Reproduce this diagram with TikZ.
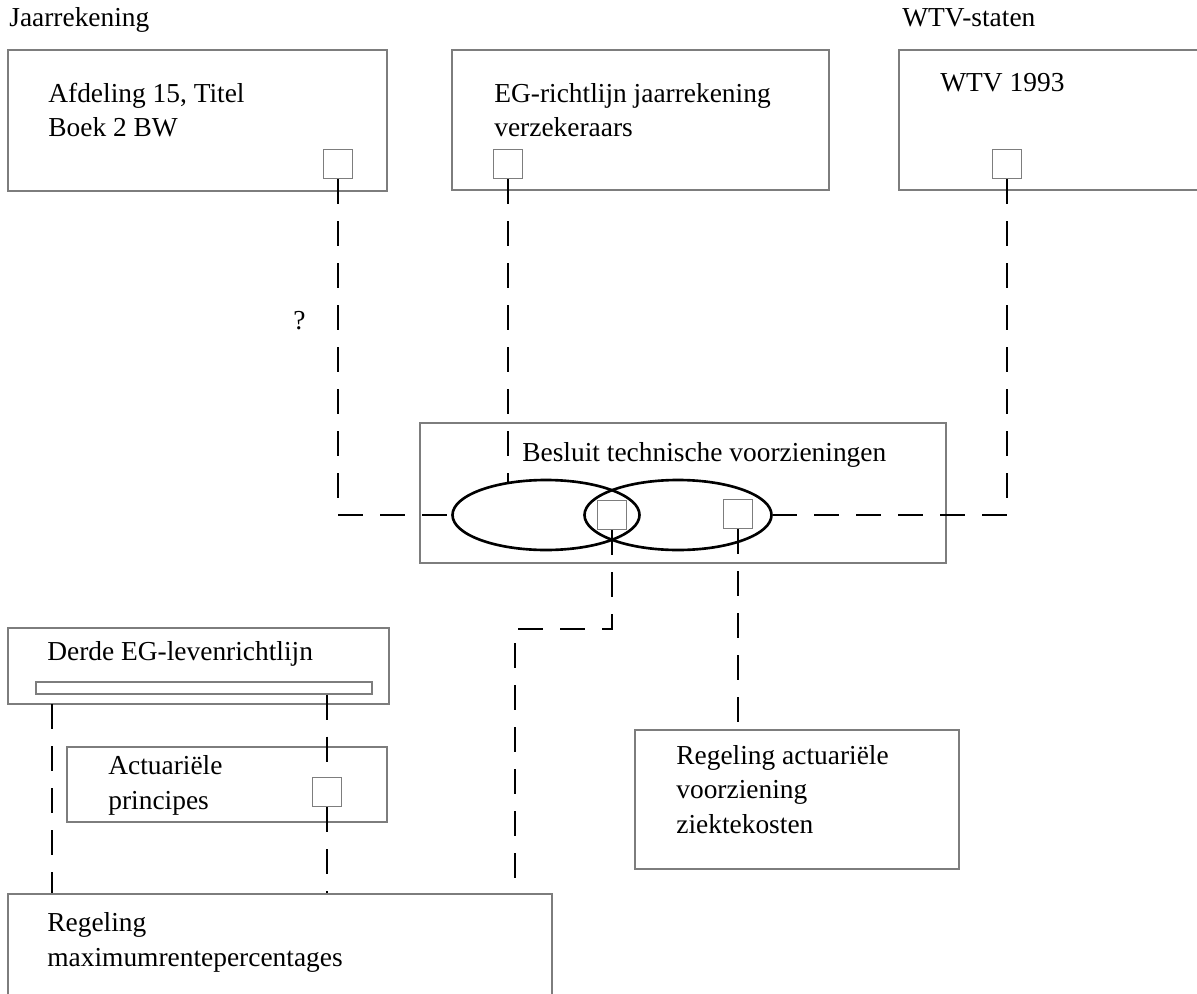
\documentclass[tikz,border=0pt]{standalone}
\usepackage{fontspec}
\setmainfont{Liberation Serif}
\usetikzlibrary{fit,shapes.geometric}

\definecolor{boxgray}{RGB}{125,125,125}

\tikzset{
  box/.style={draw=boxgray, line width=0.6pt, inner sep=0pt},
  sq/.style={draw=boxgray, line width=0.6pt, fill=white, minimum size=5.9mm, inner sep=0pt},
  ell/.style={ellipse, draw, line width=1.5pt, minimum width=37.4mm, minimum height=14mm, inner sep=0pt},
  txt/.style={anchor=base west, inner sep=0pt, align=left, font=\fontsize{15.6pt}{19.6pt}\selectfont},
  dashlink/.style={draw, line width=1.6pt, dash pattern=on 5mm off 3.4mm},
}

\begin{document}
\begin{tikzpicture}[x=0.2mm,y=-0.2mm]

        \useasboundingbox (0,0) rectangle (1197,993);
        \clip (0,0) rectangle (1197,993);

        % koppen
        \node[txt] (jaar)  at (9,27)   {Jaarrekening};
        \node[txt] (wtvst) at (902,27) {WTV-staten};

        % bovenste rij (tekst: basislijn van de laatste regel)
        \node[box, fit={(8,50) (387,191)}]   (afd)  {};
        \node[box, fit={(452,50) (829,190)}] (egjr) {};
        \node[box, fit={(899,50) (1215,190)}] (wtv) {};
        \node[txt] (afdtxt)  at (48,137)  {Afdeling 15, Titel\\Boek 2 BW};
        \node[txt] (egjrtxt) at (494,137) {EG-richtlijn jaarrekening\\verzekeraars};
        \node[txt] (wtvtxt)  at (940,92)  {WTV 1993};
        \node[sq] (sq1) at (338,164)  {};
        \node[sq] (sq2) at (508,164)  {};
        \node[sq] (sq3) at (1007,164) {};

        \node[txt] (vraag) at (293,329) {?};

        % besluit
        \node[box, fit={(420,423) (946,563)}] (btv) {};
        \node[txt] (btvtxt) at (522,461) {Besluit technische voorzieningen};
        \node[ell] (ellL) at (546,515) {};
        \node[ell] (ellR) at (678,515) {};
        \node[sq] (sqA) at (612,515) {};
        \node[sq] (sqB) at (738,514) {};

        % onderste deel
        \node[box, fit={(8,628) (389,704)}] (derde) {};
        \node[txt] (derdetxt) at (47,660) {Derde EG-levenrichtlijn};
        \node[box, fit={(36,682) (372,694)}] (bar) {};
        \node[box, fit={(67,747) (387,822)}] (act) {};
        \node[txt] (acttxt) at (108,809) {Actuariële\\principes};
        \node[sq] (sqAct) at (327,792) {};
        \node[box, fit={(8,894) (552,1020)}] (regmax) {};
        \node[txt] (regmaxtxt) at (47,966) {Regeling\\maximumrentepercentages};
        \node[box, fit={(635,730) (959,869)}] (regact) {};
        \node[txt] (regacttxt) at (676,833) {Regeling actuariële\\voorziening\\ziektekosten};

        \coordinate (bendA) at (515,629);
        \coordinate (barL)  at (52,704);

        % verbindingen
        \draw[dashlink] (sq1.south) |- (ellL.west);
        \draw[dashlink] (sq2.south) -- (sq2.south |- ellL.139);
        \draw[dashlink] (sq3.south) |- (ellR.east);
        \draw[dashlink] (sqA.south) |- (bendA) -- (bendA |- regmax.north);
        \draw[dashlink] (sqB.south) -- (sqB.south |- regact.north);
        \draw[dashlink] (barL) -- (barL |- regmax.north);
        \draw[dashlink] (sqAct.north |- bar.south) -- (sqAct.north);
        \draw[dashlink] (sqAct.south) -- (sqAct.south |- regmax.north);

      \end{tikzpicture}
\end{document}
